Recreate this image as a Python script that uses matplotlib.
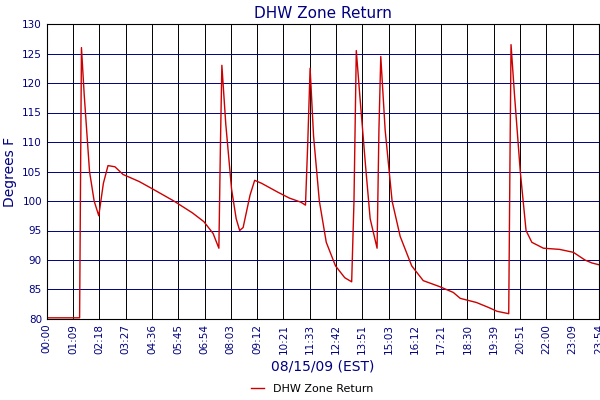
import numpy as np
import matplotlib.pyplot as plt

# time in hours, temperature in degrees F
hours = [0.0, 1.42, 1.50, 1.62, 1.85, 2.05, 2.25, 2.45, 2.65, 2.95, 3.3, 4.0, 4.6, 5.5,
         6.3, 6.8, 7.2, 7.45, 7.52, 7.58, 7.75, 8.0, 8.2, 8.35, 8.5, 8.8, 9.0, 9.3,
         10.0, 10.5, 11.0, 11.2, 11.3, 11.4, 11.55, 11.8, 12.1, 12.5, 12.9, 13.2,
         13.3, 13.4, 13.55, 13.8, 14.0, 14.3, 14.38, 14.46, 14.65, 14.95, 15.3,
         15.8, 16.3, 17.0, 17.6, 17.9, 18.6, 19.1, 19.5, 20.0, 20.05, 20.1, 20.25,
         20.5, 20.75, 21.0, 21.5, 22.2, 22.8, 23.3, 23.6, 23.9]
temps = [80.2, 80.2, 126, 118, 105, 100, 97.5, 103, 106, 105.8, 104.5, 103.3, 102, 100,
         98, 96.5, 94.5, 92, 110, 123, 113, 102, 97, 95, 95.5, 101, 103.5, 103,
         101.5, 100.5, 99.8, 99.3, 110, 122.5, 111, 100, 93, 89, 87, 86.3,
         100, 125.5, 118, 106, 97, 92, 112, 124.5, 112, 100, 94,
         89, 86.5, 85.5, 84.5, 83.5, 82.8, 82, 81.3, 80.9, 105, 126.5, 118,
         105, 95, 93, 92, 91.8, 91.3, 90, 89.5, 89.2]
tick_labels = ["00:00", "01:09", "02:18", "03:27", "04:36", "05:45", "06:54", "08:03",
               "09:12", "10:21", "11:33", "12:42", "13:51", "15:03", "16:12", "17:21",
               "18:30", "19:39", "20:51", "22:00", "23:09", "23:54"]

navy = "#000080"
fig = plt.figure(figsize=(6, 4), dpi=100)
ax = fig.add_axes([0.078, 0.2025, 0.92, 0.7375])
ax.plot(hours, temps, color="#cc0000", lw=1, label="DHW Zone Return")
ax.set_xlim(0, 23.9)
ax.set_ylim(80, 130)
ax.set_xticks(np.linspace(0, 23.9, len(tick_labels)))
ax.set_xticklabels(tick_labels, rotation=90, fontsize=7.5, color=navy)
ax.set_yticks(range(80, 131, 5))
ax.tick_params(axis="y", labelsize=7.5, labelcolor=navy)
ax.tick_params(length=0)
ax.grid(True, axis="x", color="black", lw=0.7)
ax.grid(True, axis="y", color=navy, lw=0.7)
ax.set_title("DHW Zone Return", color=navy, fontsize=11, pad=4)
ax.set_ylabel("Degrees F", color=navy, fontsize=10)
ax.set_xlabel("08/15/09 (EST)", color=navy, fontsize=10)
fig.legend(loc="lower center", bbox_to_anchor=(0.52, -0.01), frameon=False, fontsize=8,
           handlelength=1.2)
fig.savefig("out.png")
